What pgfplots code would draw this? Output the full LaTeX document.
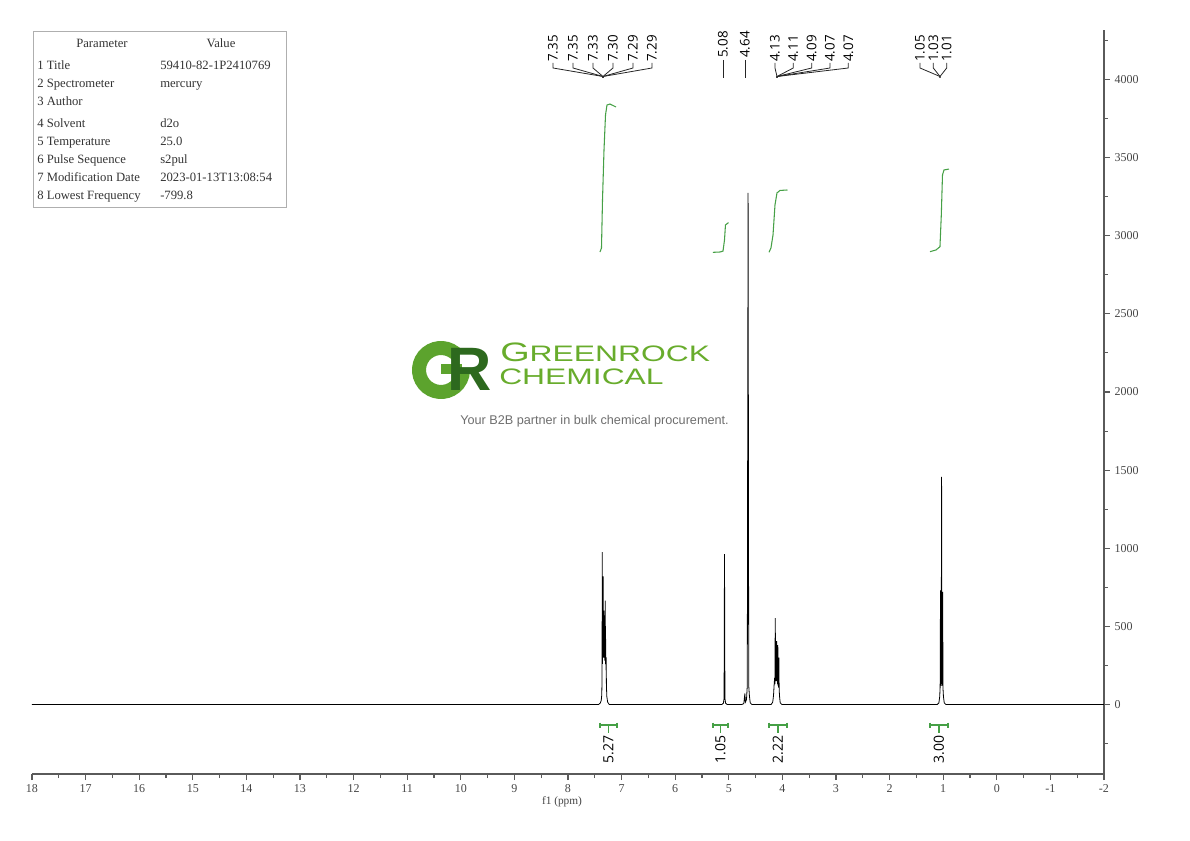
\documentclass[border=0pt]{standalone}
\usepackage{fontspec}
\usepackage{graphicx}
\usepackage{pgfplots}
\pgfplotsset{compat=1.18}
\setmainfont{Liberation Serif}
\newfontfamily\labfont{Open Sans}
\newfontfamily\arialfont{Liberation Sans}
\definecolor{axisgray}{RGB}{90,90,90}
\definecolor{ticktext}{RGB}{70,70,70}
\definecolor{intgreen}{RGB}{70,160,70}
\definecolor{boxgray}{RGB}{175,175,175}
\definecolor{gGreen}{RGB}{92,163,45}
\definecolor{rGreen}{RGB}{45,105,30}
\definecolor{txtGreen}{RGB}{104,172,44}
\definecolor{tagGray}{RGB}{110,110,110}

\begin{document}
\begin{tikzpicture}
\useasboundingbox (0,0) rectangle (892.5pt,-630.75pt);
\begin{axis}[
  at={(24pt,-580.5pt)}, anchor=south west,
  scale only axis, width=804pt, height=558pt,
  xmin=-2, xmax=18, x dir=reverse,
  ymin=-445, ymax=4317,
  axis x line=bottom, axis y line=right,
  axis line style={-, draw=axisgray, line width=1pt},
  xtick={-2,...,18},
  xticklabels={-2,-1,0,1,2,3,4,5,6,7,\raisebox{4pt}{8},9,10,11,12,13,14,15,16,17,18},
  minor xtick={-1.5,-0.5,...,17.5},
  ytick={0,500,...,4000},
  yticklabels={0,500,1000,1500,2000,2500,3000,3500,4000},
  minor ytick={-250,250,...,4250},
  tick align=outside,
  major tick length=4.5pt, minor tick length=3pt,
  tick style={axisgray, line width=0.8pt},
  ticklabel style={font=\fontsize{9}{10}\selectfont, text=ticktext},
  xlabel={f1 (ppm)},
  xlabel style={font=\fontsize{8.5}{10}\selectfont, text=ticktext,
    at={(axis description cs:0.5,0)}, anchor=center, yshift=-21pt, xshift=-4.5pt},
]
% spectrum
\addplot[black, line width=0.6pt] coordinates {
(18,0) (7.43,0) (7.40,8) (7.38,25) (7.37,60) (7.365,150) (7.36,975) (7.356,260)
(7.352,720) (7.348,320) (7.344,820) (7.340,300) (7.336,560) (7.332,320) (7.328,600)
(7.324,300) (7.318,480) (7.312,280) (7.305,665) (7.300,260) (7.296,420) (7.292,220)
(7.288,300) (7.283,120) (7.275,50) (7.26,15) (7.23,0)
(5.13,0) (5.10,8) (5.088,40) (5.08,963) (5.072,40) (5.06,8) (5.03,0)
(4.76,0) (4.72,5) (4.70,70) (4.69,15) (4.67,30) (4.655,120) (4.64,3274) (4.628,120)
(4.615,55) (4.60,10) (4.57,0)
(4.21,0) (4.18,15) (4.165,60) (4.155,120) (4.145,170) (4.14,130) (4.133,553) (4.126,150)
(4.12,230) (4.115,150) (4.108,405) (4.10,150) (4.095,250) (4.09,130) (4.085,380)
(4.08,120) (4.075,200) (4.07,110) (4.066,300) (4.06,90) (4.05,40) (4.04,10) (4.01,0)
(1.11,0) (1.08,10) (1.065,50) (1.057,110) (1.05,730) (1.043,120) (1.037,150) (1.03,1456)
(1.023,150) (1.017,120) (1.01,720) (1.003,100) (0.995,50) (0.98,10) (0.95,0) (-2,0)
};
% integral curves
\addplot[intgreen, line width=0.8pt] coordinates {
(7.403,2896) (7.375,2922) (7.356,3229) (7.328,3549) (7.300,3773) (7.272,3837) (7.216,3843) (7.104,3824)};
\addplot[intgreen, line width=0.8pt] coordinates {
(5.295,2894) (5.164,2896) (5.108,2902) (5.080,2973) (5.062,3069) (5.006,3084)};
\addplot[intgreen, line width=0.8pt] coordinates {
(4.250,2894) (4.213,2922) (4.175,3005) (4.138,3197) (4.101,3274) (4.045,3290) (3.905,3293)};
\addplot[intgreen, line width=0.8pt] coordinates {
(1.246,2898) (1.134,2909) (1.060,2930) (1.035,3133) (1.013,3389) (0.985,3421) (0.892,3427)};
\end{axis}

\begin{scope}[x=0.75pt, y=-0.75pt]
% parameter table
\draw[boxgray, line width=0.7pt] (33,31) rectangle (286,207);
\begin{scope}[every node/.style={font=\fontsize{9.5}{11}\selectfont, text=black!80, inner sep=0pt}]
\node[anchor=base] at (102,47.5) {Parameter};
\node[anchor=base] at (221,47.5) {Value};
\foreach \yy/\k/\v in {65/1 Title/59410-82-1P2410769, 83/2 Spectrometer/mercury,
  101/3 Author/, 123/4 Solvent/d2o, 141/5 Temperature/25.0, 159/6 Pulse Sequence/s2pul,
  177/7 Modification Date/2023-01-13T13:08:54, 195/8 Lowest Frequency/-799.8} {
  \node[anchor=base west] at (37,\yy+4.5) {\k};
  \node[anchor=base west] at (160,\yy+4.5) {\v};
}
\end{scope}

% peak labels
\tikzset{pklab/.style={rotate=90, anchor=west, inner sep=0pt, font=\labfont\fontsize{10}{12}\selectfont},
         pkline/.style={black!85, line width=0.6pt}}
\foreach \x/\t in {553/7.35,573/7.35,593/7.33,613/7.30,633/7.29,652/7.29} {
  \node[pklab] at (\x,62) {\t};
  \draw[pkline] (\x,63) -- (\x,68) -- (603,76.5) -- (603,78);
}
\foreach \x/\t in {723/5.08,745/4.64} {
  \node[pklab] at (\x,58) {\t};
  \draw[pkline] (\x,60) -- (\x,78);
}
\foreach \x/\t in {775/4.13,793.3/4.11,811.7/4.09,830/4.07,848.3/4.07} {
  \node[pklab] at (\x,62) {\t};
  \draw[pkline] (\x,63) -- (\x,68) -- (777,76.5) -- (777,78);
}
\foreach \x/\t in {920/1.05,933.3/1.03,946.7/1.01} {
  \node[pklab] at (\x,62) {\t};
  \draw[pkline] (\x,63) -- (\x,68) -- (940,76.5) -- (940,78);
}

% integral brackets
\foreach \a/\b/\t in {600/617/5.27, 713/728/1.05, 769/787/2.22, 930/948/3.00} {
  \pgfmathsetmacro{\m}{(\a+\b)/2}
  \draw[intgreen, line width=0.8pt] (\a,722.5) -- (\a,727.5) (\a,725) -- (\b,725)
    (\b,722.5) -- (\b,727.5) (\m,725) -- (\m,733);
  \node[rotate=90, anchor=east, inner sep=0pt, font=\labfont\fontsize{10.5}{12}\selectfont]
    at (\m,735) {\t};
}

% watermark logo
\draw[gGreen, line width=10.5pt] (441,370) ++(-40:22) arc[start angle=-40, end angle=-358, radius=22];
\draw[gGreen, line width=8pt] (441,369) -- (462,369);
\node[anchor=base west, inner sep=0pt, text=rGreen,
  font=\arialfont\bfseries\fontsize{46}{46}\selectfont] at (447,391) {R};
\node[anchor=base west, inner sep=0pt, text=txtGreen] at (500,362)
  {\scalebox{1.42}[1]{\arialfont{\fontsize{20}{20}\selectfont G}{\fontsize{16.8}{17}\selectfont REENROCK}}};
\node[anchor=base west, inner sep=0pt, text=txtGreen] at (499,385)
  {\scalebox{1.42}[1]{\arialfont\fontsize{16.8}{17}\selectfont CHEMICAL}};
\node[inner sep=0pt, text=tagGray, font=\arialfont\fontsize{9.5}{11}\selectfont]
  at (594.5,421) {Your B2B partner in bulk chemical procurement.};
\end{scope}
\end{tikzpicture}
\end{document}
